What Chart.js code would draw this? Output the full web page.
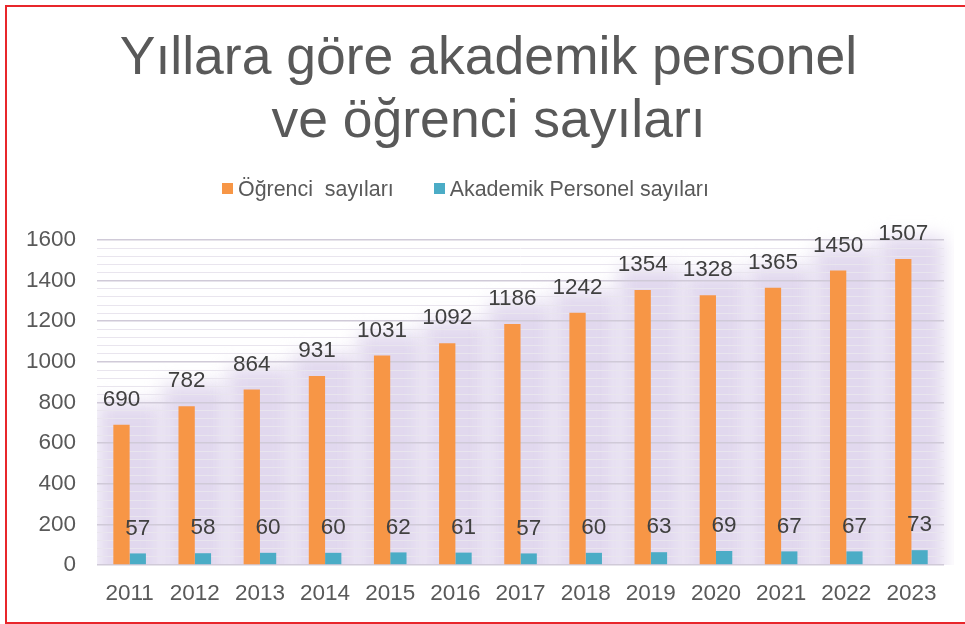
<!DOCTYPE html>
<html lang="tr">
<head>
<meta charset="UTF-8">
<title>Yıllara göre akademik personel ve öğrenci sayıları</title>
<script src="https://cdn.jsdelivr.net/npm/chart.js"></script>
<style>
  html, body { margin: 0; padding: 0; background: #fff; overflow: hidden; }
  #wrap { position: relative; width: 965px; height: 624px; }
  #chart { position: absolute; left: 0; top: 0; }
  #frame {
    position: absolute; left: 5px; top: 5px; width: 990px; height: 619px;
    box-sizing: border-box; border: 2px solid #e8262b; pointer-events: none;
  }
  #legend {
    position: absolute; left: 222px; top: 177.5px;
    display: flex; align-items: center; gap: 40px;
    font-family: 'Liberation Sans', Arial, sans-serif; font-size: 21.4px;
    line-height: 22px; color: #595959; white-space: pre;
  }
  #legend .item { display: flex; align-items: center; }
  #legend .box { width: 11px; height: 11px; margin-right: 5px; }
</style>
</head>
<body>
<div id="wrap">
  <canvas id="chart" width="965" height="624"></canvas>
  <div id="legend"></div>
  <div id="frame"></div>
</div>
<script>
// data
const years = ['2011', '2012', '2013', '2014', '2015', '2016', '2017', '2018', '2019', '2020', '2021', '2022', '2023'];
const ogrenciSayilari = [690, 782, 864, 931, 1031, 1092, 1186, 1242, 1354, 1328, 1365, 1450, 1507];
const akademikSayilari = [57, 58, 60, 60, 62, 61, 57, 60, 63, 69, 67, 67, 73];
const yMax = 1600;
const majorStep = 200;
const minorStep = 40;

const FONT = "'Liberation Sans', Arial, sans-serif";

// soft lavender glow behind each pair of bars
const glowPlugin = {
  id: 'glow',
  beforeDraw(chart) {
    const ctx = chart.ctx;
    const area = chart.chartArea;
    const a = chart.getDatasetMeta(0).data;
    const b = chart.getDatasetMeta(1).data;
    ctx.save();
    ctx.beginPath();
    ctx.rect(area.left, 0, area.right - area.left + 10, area.bottom);
    ctx.clip();
    ctx.filter = 'blur(9px)';
    ctx.fillStyle = '#e1d8ee';
    a.forEach((bar, i) => {
      const left = bar.x - bar.width / 2 - 16;
      const right = b[i].x + b[i].width / 2 + 16;
      const top = bar.y - 22;
      ctx.fillRect(left, top, right - left, bar.base - top + 20);
    });
    ctx.restore();
  },
  afterLayout(chart) {
    // title in the picture sits a little right of the canvas centre
    if (chart.titleBlock) {
      chart.titleBlock.left += 14;
      chart.titleBlock.right += 14;
    }
  }
};

// value labels above the bars
const labelPlugin = {
  id: 'valueLabels',
  afterDatasetsDraw(chart) {
    const ctx = chart.ctx;
    ctx.save();
    ctx.font = '22.5px ' + FONT;
    ctx.fillStyle = '#404040';
    ctx.textAlign = 'center';
    ctx.textBaseline = 'middle';
    chart.data.datasets.forEach((ds, di) => {
      chart.getDatasetMeta(di).data.forEach((bar, i) => {
        ctx.fillText(String(ds.data[i]), bar.x, bar.y - 25);
      });
    });
    ctx.restore();
  }
};

const chart = new Chart(document.getElementById('chart'), {
  type: 'bar',
  data: {
    labels: years,
    datasets: [
      {
        label: 'Öğrenci  sayıları',
        data: ogrenciSayilari,
        backgroundColor: '#f79646',
        categoryPercentage: 0.5,
        barPercentage: 1.0
      },
      {
        label: 'Akademik Personel sayıları',
        data: akademikSayilari,
        backgroundColor: '#4bacc6',
        categoryPercentage: 0.5,
        barPercentage: 1.0
      }
    ]
  },
  options: {
    responsive: false,
    animation: false,
    layout: { padding: { left: 5, right: 21, top: 0, bottom: 2 } },
    plugins: {
      title: {
        display: true,
        text: ['Yıllara göre akademik personel', 've öğrenci sayıları'],
        color: '#595959',
        font: { family: FONT, size: 53.5, weight: 'normal', lineHeight: 1.1776 },
        padding: { top: 28, bottom: 86 }
      },
      legend: { display: false },
      tooltip: { enabled: false }
    },
    scales: {
      x: {
        grid: { display: false, drawTicks: false },
        border: { display: false },
        ticks: {
          color: '#595959',
          font: { family: FONT, size: 22.5 },
          padding: 15,
          maxRotation: 0
        }
      },
      y: {
        min: 0,
        max: yMax,
        border: { display: false },
        grid: {
          drawTicks: false,
          color: c => (c.tick && c.tick.value % majorStep === 0) ? '#d0cad8' : '#e9e5ee',
          lineWidth: c => (c.tick && c.tick.value % majorStep === 0) ? 1.6 : 1
        },
        ticks: {
          stepSize: minorStep,
          autoSkip: false,
          color: '#595959',
          font: { family: FONT, size: 22.5 },
          padding: 21,
          callback: v => (v % majorStep === 0 ? v : '')
        }
      }
    }
  },
  plugins: [glowPlugin, labelPlugin]
});

// legend built from the dataset labels and colours
document.getElementById('legend').innerHTML = chart.data.datasets
  .map(ds => `<span class="item"><span class="box" style="background:${ds.backgroundColor}"></span>${ds.label}</span>`)
  .join('');
</script>
</body>
</html>
